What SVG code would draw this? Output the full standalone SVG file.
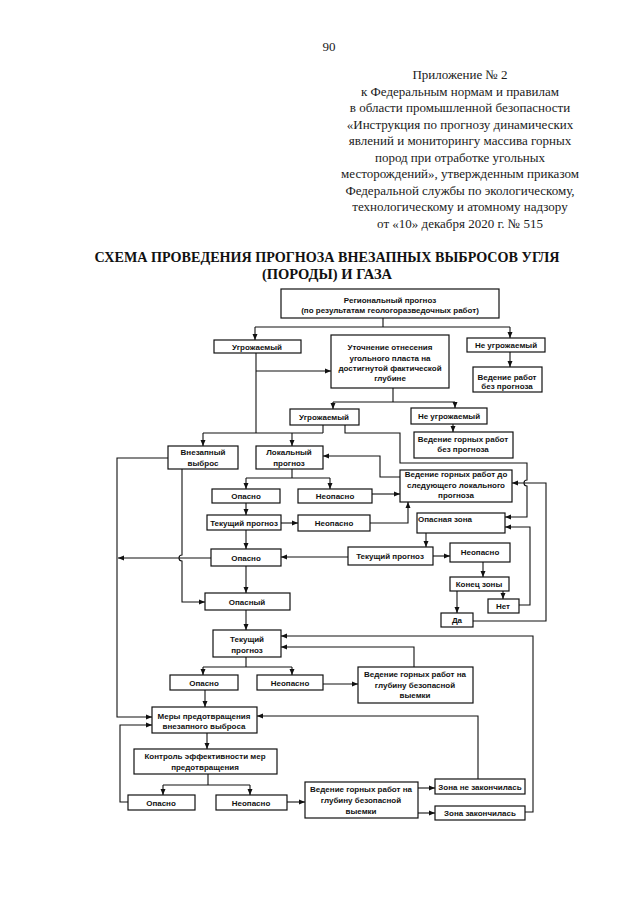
<svg xmlns="http://www.w3.org/2000/svg" width="640" height="905" viewBox="0 0 640 905">
<style>
.hdr{font-family:"Liberation Serif","Times New Roman",serif;font-size:13px;fill:#1a1a1a;text-anchor:middle}
.ttl{font-family:"Liberation Serif","Times New Roman",serif;font-size:14.5px;font-weight:bold;fill:#111;text-anchor:middle}
.t{font-family:"Liberation Sans",Arial,sans-serif;font-size:8px;font-weight:bold;fill:#111;text-anchor:middle}
.b{fill:#fff;stroke:#111;stroke-width:1.2}
.c{fill:none;stroke:#111;stroke-width:1.1}
.a{fill:none;stroke:#111;stroke-width:1.1;marker-end:url(#ah)}
</style>
<defs>
<marker id="ah" markerUnits="userSpaceOnUse" markerWidth="6" markerHeight="6" viewBox="0 0 6 6" refX="6" refY="3" orient="auto">
<path d="M0,0.5 L6,3 L0,5.5 Z" fill="#111"/>
</marker>
</defs>
<rect width="640" height="905" fill="#fff"/>

<text class="hdr" x="329" y="51">90</text>
<g id="header">
<text class="hdr" x="460" y="79">Приложение № 2</text>
<text class="hdr" x="460" y="96">к Федеральным нормам и правилам</text>
<text class="hdr" x="460" y="112">в области промышленной безопасности</text>
<text class="hdr" x="460" y="129">«Инструкция по прогнозу динамических</text>
<text class="hdr" x="460" y="145">явлений и мониторингу массива горных</text>
<text class="hdr" x="460" y="162">пород при отработке угольных</text>
<text class="hdr" x="460" y="178">месторождений», утвержденным приказом</text>
<text class="hdr" x="460" y="195">Федеральной службы по экологическому,</text>
<text class="hdr" x="460" y="211">технологическому и атомному надзору</text>
<text class="hdr" x="460" y="228">от «10» декабря 2020 г. № 515</text>
</g>
<g id="title">
<text class="ttl" x="327" y="262" textLength="465" lengthAdjust="spacingAndGlyphs">СХЕМА ПРОВЕДЕНИЯ ПРОГНОЗА ВНЕЗАПНЫХ ВЫБРОСОВ УГЛЯ</text>
<text class="ttl" x="327" y="279">(ПОРОДЫ) И ГАЗА</text>
</g>

<g id="connectors">
<path class="c" d="M383,318 V327 M255,327 H510"/>
<path class="a" d="M255,327 V340"/>
<path class="a" d="M510,327 V338"/>
<path class="a" d="M510,352 V367"/>
<path class="c" d="M256,353 V433"/>
<path class="a" d="M256,371 H331"/>
<path class="c" d="M393,388 V402 M333,402 H455"/>
<path class="a" d="M333,402 V409"/>
<path class="a" d="M455,402 V408"/>
<path class="a" d="M453,424 V432"/>
<path class="c" d="M323,425 V433 M203,433 H323"/>
<path class="a" d="M203,433 V446"/>
<path class="a" d="M292,433 V446"/>
<path class="a" d="M345,425 V433 H400 V463 H527 V480 A3,3 0 0 0 527,486 V517 H505"/>
<path class="a" d="M168,458 H117 V717 H152"/>
<path class="a" d="M182,469 V555 A3,3 0 0 0 182,561 V602 H205"/>
<path class="a" d="M211,558 H118"/>
<path class="c" d="M292,469 V478 M246,478 H330"/>
<path class="a" d="M246,478 V489"/>
<path class="a" d="M330,478 V489"/>
<path class="a" d="M400,477 H380 V456 H323"/>
<path class="a" d="M372,494 H400"/>
<path class="a" d="M246,503 V515"/>
<path class="a" d="M281,523 H298"/>
<path class="a" d="M370,523 H408 V502"/>
<path class="a" d="M246,530 V549"/>
<path class="a" d="M426,533 V547"/>
<path class="a" d="M348,557 H281"/>
<path class="a" d="M433,556 H450"/>
<path class="a" d="M483,562 V577"/>
<path class="a" d="M457,591 V613"/>
<path class="a" d="M503,591 V599"/>
<path class="a" d="M519,605 H530 V527 H505"/>
<path class="a" d="M473,621 H546 V483 H512"/>
<path class="a" d="M246,566 V593"/>
<path class="a" d="M246,610 V630"/>
<path class="c" d="M246,657 V667 M203,667 H292"/>
<path class="a" d="M203,667 V675"/>
<path class="a" d="M292,667 V675"/>
<path class="a" d="M323,684 H358"/>
<path class="a" d="M414,667 V647 H281"/>
<path class="a" d="M205,690 V707"/>
<path class="a" d="M478,779 V716 H257"/>
<path class="a" d="M207,733 V749"/>
<path class="c" d="M208,774 V785 M163,785 H250"/>
<path class="a" d="M163,785 V795"/>
<path class="a" d="M250,785 V795"/>
<path class="a" d="M128,802 H120 V725 H152"/>
<path class="a" d="M287,802 H305"/>
<path class="a" d="M418,788 H435"/>
<path class="a" d="M418,813 H435"/>
<path class="a" d="M525,812 H533 V636 H281"/>
</g>

<g id="n1"><rect class="b" x="281" y="289" width="218" height="29"/><text class="t" x="390" y="303">Региональный прогноз</text><text class="t" x="390" y="313">(по результатам геологоразведочных работ)</text></g>
<g id="n2"><rect class="b" x="214" y="340" width="87" height="13"/><text class="t" x="257" y="349.5">Угрожаемый</text></g>
<g id="n3"><rect class="b" x="331" y="335" width="118" height="53"/><text class="t" x="390" y="350">Уточнение отнесения</text><text class="t" x="390" y="361">угольного пласта на</text><text class="t" x="390" y="371">достигнутой фактической</text><text class="t" x="390" y="381">глубине</text></g>
<g id="n4"><rect class="b" x="467" y="338" width="78" height="14"/><text class="t" x="506" y="348">Не угрожаемый</text></g>
<g id="n5"><rect class="b" x="473" y="367" width="69" height="25"/><text class="t" x="507" y="380">Ведение работ</text><text class="t" x="507" y="389">без прогноза</text></g>
<g id="n6"><rect class="b" x="290" y="409" width="69" height="16"/><text class="t" x="324" y="420">Угрожаемый</text></g>
<g id="n7"><rect class="b" x="411" y="408" width="76" height="16"/><text class="t" x="449" y="419">Не угрожаемый</text></g>
<g id="n8"><rect class="b" x="414" y="432" width="99" height="26"/><text class="t" x="463" y="442">Ведение горных работ</text><text class="t" x="463" y="452">без прогноза</text></g>
<g id="n9"><rect class="b" x="168" y="446" width="70" height="23"/><text class="t" x="203" y="455">Внезапный</text><text class="t" x="203" y="466">выброс</text></g>
<g id="n10"><rect class="b" x="256" y="446" width="67" height="23"/><text class="t" x="289" y="455">Локальный</text><text class="t" x="289" y="466">прогноз</text></g>
<g id="n11"><rect class="b" x="212" y="489" width="68" height="14"/><text class="t" x="246" y="499">Опасно</text></g>
<g id="n12"><rect class="b" x="298" y="489" width="74" height="14"/><text class="t" x="335" y="499">Неопасно</text></g>
<g id="n13"><rect class="b" x="400" y="470" width="112" height="32"/><text class="t" x="456" y="477">Ведение горных работ до</text><text class="t" x="456" y="488">следующего локального</text><text class="t" x="456" y="498">прогноза</text></g>
<g id="n14"><rect class="b" x="207" y="515" width="74" height="15"/><text class="t" x="244" y="525.5">Текущий прогноз</text></g>
<g id="n15"><rect class="b" x="298" y="515" width="72" height="16"/><text class="t" x="334" y="526">Неопасно</text></g>
<g id="n16"><rect class="b" x="211" y="549" width="70" height="17"/><text class="t" x="246" y="560.5">Опасно</text></g>
<g id="n17"><rect class="b" x="417" y="513" width="88" height="20"/><text class="t" x="445" y="522">Опасная зона</text></g>
<g id="n18"><rect class="b" x="348" y="547" width="85" height="18"/><text class="t" x="390" y="559">Текущий прогноз</text></g>
<g id="n19"><rect class="b" x="450" y="543" width="60" height="19"/><text class="t" x="480" y="555">Неопасно</text></g>
<g id="n20"><rect class="b" x="450" y="577" width="59" height="14"/><text class="t" x="479" y="587">Конец зоны</text></g>
<g id="n21"><rect class="b" x="488" y="599" width="31" height="14"/><text class="t" x="503" y="609">Нет</text></g>
<g id="n22"><rect class="b" x="441" y="613" width="32" height="14"/><text class="t" x="457" y="623">Да</text></g>
<g id="n23"><rect class="b" x="205" y="593" width="85" height="17"/><text class="t" x="247" y="605">Опасный</text></g>
<g id="n24"><rect class="b" x="213" y="630" width="68" height="27"/><text class="t" x="247" y="642">Текущий</text><text class="t" x="247" y="653">прогноз</text></g>
<g id="n25"><rect class="b" x="170" y="675" width="68" height="15"/><text class="t" x="204" y="686">Опасно</text></g>
<g id="n26"><rect class="b" x="257" y="675" width="66" height="15"/><text class="t" x="290" y="686">Неопасно</text></g>
<g id="n27"><rect class="b" x="358" y="667" width="115" height="36"/><text class="t" x="415" y="677">Ведение горных работ на</text><text class="t" x="415" y="688">глубину безопасной</text><text class="t" x="415" y="698">выемки</text></g>
<g id="n28"><rect class="b" x="152" y="707" width="105" height="26"/><text class="t" x="204" y="719">Меры предотвращения</text><text class="t" x="204" y="729">внезапного выброса</text></g>
<g id="n29"><rect class="b" x="134" y="749" width="143" height="25"/><text class="t" x="205" y="759">Контроль эффективности мер</text><text class="t" x="205" y="770">предотвращения</text></g>
<g id="n30"><rect class="b" x="128" y="795" width="67" height="15"/><text class="t" x="161" y="806">Опасно</text></g>
<g id="n31"><rect class="b" x="216" y="795" width="71" height="15"/><text class="t" x="251" y="806">Неопасно</text></g>
<g id="n32"><rect class="b" x="305" y="782" width="113" height="36"/><text class="t" x="361" y="792">Ведение горных работ на</text><text class="t" x="361" y="803">глубину безопасной</text><text class="t" x="361" y="814">выемки</text></g>
<g id="n33"><rect class="b" x="435" y="779" width="90" height="15"/><text class="t" x="480" y="790">Зона не закончилась</text></g>
<g id="n34"><rect class="b" x="435" y="806" width="90" height="14"/><text class="t" x="480" y="816">Зона закончилась</text></g>
</svg>
